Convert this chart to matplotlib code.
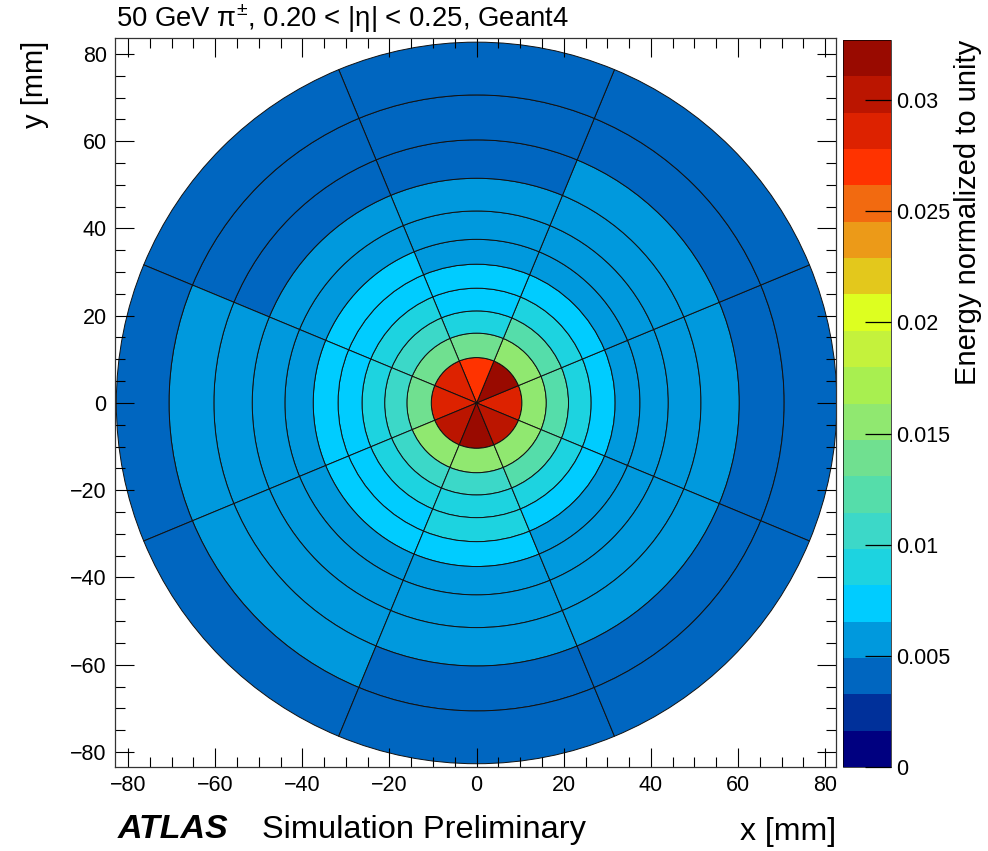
import numpy as np
import matplotlib
matplotlib.use('Agg')
import matplotlib.pyplot as plt
from matplotlib.patches import Wedge
from matplotlib.collections import PatchCollection
from matplotlib.colors import ListedColormap, BoundaryNorm
from matplotlib.ticker import MultipleLocator, FixedLocator, FixedFormatter

# ---------------- data ----------------
ring_edges = [0.0, 10.4, 16.0, 21.1, 26.3, 31.8, 37.5, 44.0, 51.5, 60.3, 70.6, 82.7]
sector_centers = [0, 45, 90, 135, 180, 225, 270, 315]   # degrees
sector_width = 45

# energy per ring (rows, inner -> outer) and sector (columns, order of sector_centers)
ring0 = [0.0286, 0.0319, 0.0270, 0.0286, 0.0288, 0.0303, 0.0320, 0.0302]
ring1 = [0.0156, 0.0154, 0.0140, 0.0138, 0.0141, 0.0152, 0.0157, 0.0155]
ring2 = [0.0123, 0.0121, 0.0092, 0.0105, 0.0107, 0.0108, 0.0106, 0.0122]
ring3 = [0.0091, 0.0089, 0.0074, 0.0088, 0.0090, 0.0092, 0.0093, 0.0090]
ring4 = [0.0075, 0.0073, 0.0070, 0.0072, 0.0074, 0.0076, 0.0084, 0.0077]
ring5 = [0.0060, 0.0058, 0.0056, 0.0068, 0.0070, 0.0071, 0.0072, 0.0062]
ring6 = [0.0058, 0.0055, 0.0054, 0.0056, 0.0060, 0.0061, 0.0060, 0.0057]
ring7 = [0.0055, 0.0053, 0.0051, 0.0052, 0.0057, 0.0058, 0.0056, 0.0054]
ring8 = [0.0052, 0.0050, 0.0046, 0.0047, 0.0055, 0.0054, 0.0052, 0.0051]
ring9 = [0.0045, 0.0044, 0.0042, 0.0043, 0.0051, 0.0050, 0.0046, 0.0045]
ring10 = [0.0040, 0.0039, 0.0038, 0.0039, 0.0042, 0.0041, 0.0040, 0.0039]
energy = [ring0, ring1, ring2, ring3, ring4, ring5, ring6, ring7, ring8, ring9, ring10]

z_min, z_max = 0.0, 0.0327
n_levels = 20
palette = ['#000080', '#00309a', '#0066c0', '#0099dd', '#00ccff',
           '#1dd3e0', '#3cd8c8', '#55ddaa', '#70e090', '#90e870',
           '#a8ef50', '#c4f23c', '#ddff20', '#e3c81c', '#ec9a18',
           '#f26a10', '#ff3300', '#dd2200', '#bb1500', '#990a00']
cbar_ticks = [0, 0.005, 0.01, 0.015, 0.02, 0.025, 0.03]
cbar_ticklabels = ['0', '0.005', '0.01', '0.015', '0.02', '0.025', '0.03']
axis_ticks = [-80, -60, -40, -20, 0, 20, 40, 60, 80]

title = '50 GeV \u03c0$^{\\pm}$, 0.20 < |\u03b7| < 0.25, Geant4'

# ---------------- style ----------------
plt.rcParams['font.family'] = ['Liberation Sans', 'DejaVu Sans']
plt.rcParams['mathtext.fontset'] = 'custom'
plt.rcParams['mathtext.rm'] = 'Liberation Sans'
plt.rcParams['mathtext.it'] = 'Liberation Sans:italic'
plt.rcParams['mathtext.bf'] = 'Liberation Sans:bold'
plt.rcParams['axes.unicode_minus'] = True

W, H = 988, 851
fig = plt.figure(figsize=(W / 100, H / 100), dpi=100)

ax_l, ax_r, ax_t, ax_b = 115, 836, 38, 767
ax = fig.add_axes([ax_l / W, 1 - ax_b / H, (ax_r - ax_l) / W, (ax_b - ax_t) / H])

cmap = ListedColormap(palette)
levels = np.linspace(z_min, z_max, n_levels + 1)
norm = BoundaryNorm(levels, cmap.N)

patches, vals = [], []
for i in range(len(ring_edges) - 1):
    r_in, r_out = ring_edges[i], ring_edges[i + 1]
    for j, c in enumerate(sector_centers):
        if r_in == 0:
            w = Wedge((0, 0), r_out, c - sector_width / 2, c + sector_width / 2)
        else:
            w = Wedge((0, 0), r_out, c - sector_width / 2, c + sector_width / 2,
                      width=r_out - r_in)
        patches.append(w)
        vals.append(energy[i][j])

pc = PatchCollection(patches, cmap=cmap, norm=norm, edgecolor='#111111',
                     linewidth=0.7)
pc.set_array(np.array(vals))
ax.add_collection(pc)

ax.set_xlim(-83.0, 82.5)
ax.set_ylim(-83.45, 83.65)
ax.set_xticks(axis_ticks)
ax.set_yticks(axis_ticks)
ax.xaxis.set_minor_locator(MultipleLocator(5))
ax.yaxis.set_minor_locator(MultipleLocator(5))
ax.tick_params(which='both', direction='in', top=True, right=True,
               labelsize=15.5, width=0.8, colors='black')
ax.tick_params(which='major', length=14, pad=6)
ax.tick_params(which='minor', length=7)
for sp in ax.spines.values():
    sp.set_linewidth(0.9)
    sp.set_color('#333333')

# colour bar
cb_l, cb_r = 843, 891
cax = fig.add_axes([cb_l / W, 1 - ax_b / H, (cb_r - cb_l) / W, (ax_b - 40) / H])
cb = fig.colorbar(pc, cax=cax, boundaries=levels)
cb.outline.set_linewidth(0.5)
cax.yaxis.set_major_locator(FixedLocator(cbar_ticks))
cax.yaxis.set_major_formatter(FixedFormatter(cbar_ticklabels))
cax.yaxis.set_minor_locator(FixedLocator([]))
cax.tick_params(which='major', direction='in', length=19, width=0.9,
                labelsize=15.5, pad=4, right=True, left=False)

# texts
fig.text(116 / W, 1 - 27 / H, title, fontsize=19.8, ha='left', va='baseline')
fig.text(35 / W, 1 - 41 / H, 'y [mm]', fontsize=21, rotation=90,
         ha='center', va='top')
fig.text(836 / W, 1 - 840 / H, 'x [mm]', fontsize=23, ha='right',
         va='baseline')
fig.text(118 / W, 1 - 838 / H, 'ATLAS', fontsize=24.5, fontweight='bold',
         fontstyle='italic', ha='left', va='baseline')
fig.text(262 / W, 1 - 838 / H, 'Simulation Preliminary', fontsize=23.4,
         ha='left', va='baseline')
fig.text(968 / W, 1 - 40 / H, 'Energy normalized to unity', fontsize=21,
         rotation=90, ha='center', va='top')

fig.savefig('out.png', dpi=100)
